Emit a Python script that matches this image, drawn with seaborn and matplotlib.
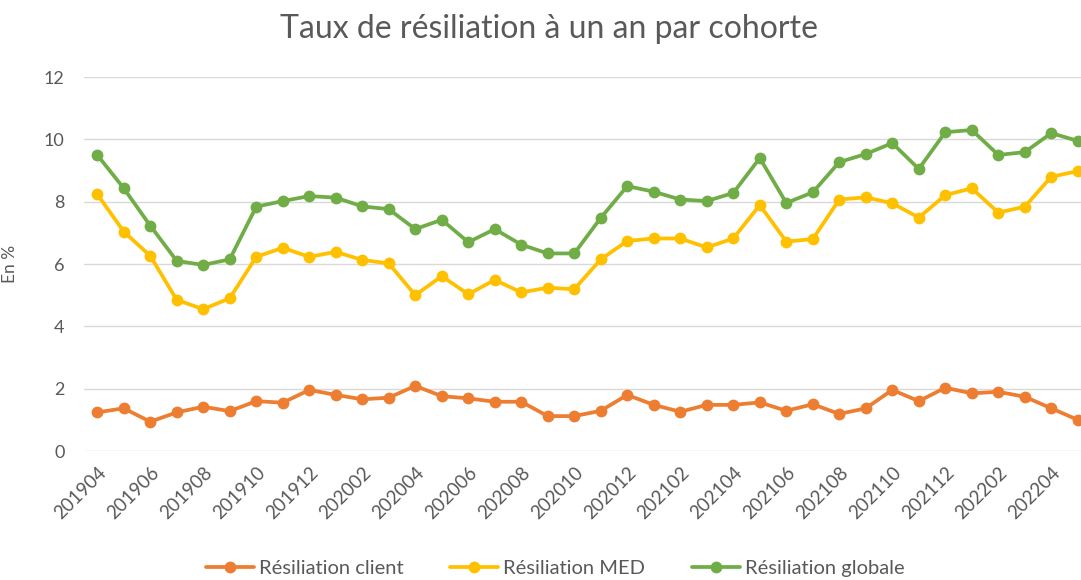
import matplotlib
matplotlib.use("Agg")
import matplotlib.pyplot as plt
import seaborn as sns
import pandas as pd

months = ["201904","201905","201906","201907","201908","201909","201910","201911","201912",
          "202001","202002","202003","202004","202005","202006","202007","202008","202009",
          "202010","202011","202012","202101","202102","202103","202104","202105","202106",
          "202107","202108","202109","202110","202111","202112","202201","202202","202203",
          "202204","202205"]

resil_client = [1.24,1.37,0.94,1.24,1.42,1.28,1.60,1.55,1.96,1.80,1.66,1.71,2.09,1.76,1.69,1.58,
                1.58,1.12,1.12,1.29,1.80,1.48,1.26,1.48,1.48,1.56,1.29,1.50,1.19,1.37,1.96,1.60,
                2.03,1.85,1.90,1.74,1.37,1.00]
resil_med = [8.24,7.04,6.26,4.85,4.55,4.90,6.23,6.52,6.23,6.39,6.13,6.02,5.00,5.61,5.03,5.49,
             5.09,5.24,5.19,6.15,6.74,6.82,6.82,6.53,6.82,7.89,6.72,6.80,8.07,8.14,7.95,7.49,
             8.21,8.43,7.65,7.84,8.80,8.98]
resil_glob = [9.50,8.43,7.23,6.10,5.97,6.15,7.84,8.02,8.18,8.13,7.85,7.76,7.12,7.42,6.70,7.12,
              6.62,6.34,6.34,7.48,8.50,8.32,8.07,8.02,8.28,9.40,7.96,8.30,9.27,9.53,9.88,9.05,
              10.23,10.30,9.50,9.59,10.20,9.95]

series_names = ["Résiliation client", "Résiliation MED", "Résiliation globale"]
colors = ["#ED7D31", "#FFC000", "#70AD47"]

df = pd.DataFrame({
    "mois": months * 3,
    "valeur": resil_client + resil_med + resil_glob,
    "serie": [series_names[0]] * len(months) + [series_names[1]] * len(months) + [series_names[2]] * len(months),
})

sns.set_theme(style="white")
plt.rcParams["font.family"] = ["Lato", "DejaVu Sans"]

fig = plt.figure(figsize=(10.81, 5.80), dpi=100)
ax = fig.add_axes([0.0777, 0.2224, 0.9316, 0.6448])

sns.lineplot(data=df, x="mois", y="valeur", hue="serie", palette=colors,
             marker="o", markersize=8.5, markeredgewidth=0, linewidth=2.7,
             ax=ax, sort=False, legend=True)

ax.set_xlim(-0.5, len(months) - 0.5)
ax.set_ylim(0, 12)
ax.set_yticks([0, 2, 4, 6, 8, 10, 12])
ax.yaxis.grid(True, color="#D9D9D9", linewidth=1)
ax.set_axisbelow(True)
for s in ax.spines.values():
    s.set_visible(False)

ticks = list(range(0, len(months), 2))
ax.set_xticks(ticks)
ax.set_xticklabels([months[i] for i in ticks], rotation=45, ha="right",
                   rotation_mode="anchor", fontsize=13.5, color="#595959")
ax.tick_params(axis="y", labelsize=13, colors="#595959", length=0, pad=14)
ax.tick_params(axis="x", length=0, pad=9)
ax.set_xlabel("")
ax.set_ylabel("En %", fontsize=12.5, color="#595959")
ax.yaxis.set_label_coords(-0.0655, 0.5)

fig.suptitle("Taux de résiliation à un an par cohorte", fontsize=23, color="#595959",
             x=0.508, y=0.975)

leg = ax.legend(loc="center", bbox_to_anchor=(0.468, -0.313),
                ncol=3, frameon=False, fontsize=14.5, handlelength=2.4,
                columnspacing=2.3, handletextpad=0.25, markerscale=1.0)
for t in leg.get_texts():
    t.set_color("#595959")

fig.savefig("out.png", dpi=100)
